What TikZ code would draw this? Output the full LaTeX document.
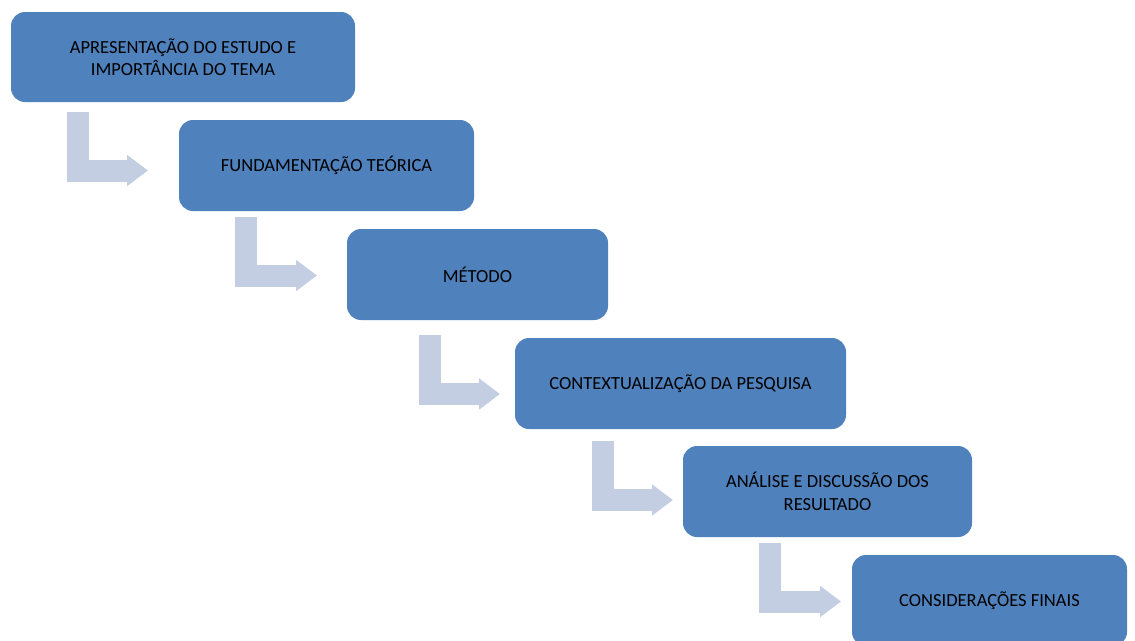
\documentclass[tikz,border=0pt]{standalone}
\usepackage{fontspec}
\setmainfont{Carlito}
\usetikzlibrary{arrows.meta}

\definecolor{boxblue}{HTML}{4F81BD}
\definecolor{flowblue}{HTML}{C3CEE3}

\tikzset{
  stepbox/.style={
    draw=none, fill=boxblue, rounded corners=14pt,
    anchor=north west, inner sep=0pt, outer sep=0pt,
    minimum height=91pt, align=center, text=black,
    font=\fontsize{18.5}{22.5}\selectfont
  },
  flow/.style={
    draw=flowblue, line width=22pt, line join=miter, line cap=butt,
    -{Triangle[length=21pt,width=30pt]}
  }
}

\begin{document}
\begin{tikzpicture}[x=1pt,y=-1pt]
  \useasboundingbox (0,0) rectangle (1135,640);

  % staircase of stages
  \node[stepbox, minimum width=344pt, minimum height=90pt] (b1) at (11,12)
    {APRESENTAÇÃO DO ESTUDO E\\IMPORTÂNCIA DO TEMA};
  \node[stepbox, minimum width=295pt] (b2) at (179,120) {FUNDAMENTAÇÃO TEÓRICA};
  \node[stepbox, minimum width=261pt] (b3) at (347,229) {MÉTODO};
  \node[stepbox, minimum width=331pt] (b4) at (515,338) {CONTEXTUALIZAÇÃO DA PESQUISA};
  \node[stepbox, minimum width=289pt] (b5) at (683,446)
    {ANÁLISE E DISCUSSÃO DOS\\RESULTADO};
  \node[stepbox, minimum width=275pt] (b6) at (852,555) {CONSIDERAÇÕES FINAIS};

  % bent arrows between consecutive stages
  \draw[flow] ([xshift=67pt,yshift=-10pt]b1.south west) |- ([xshift=-31pt,yshift=-5pt]b2.west);
  \draw[flow] ([xshift=66.5pt,yshift=-6pt]b2.south west) |- ([xshift=-30pt,yshift=-1pt]b3.west);
  \draw[flow] ([xshift=83pt,yshift=-15pt]b3.south west) |- ([xshift=-15pt,yshift=-10.5pt]b4.west);
  \draw[flow] ([xshift=87.5pt,yshift=-12pt]b4.south west) |- ([xshift=-10pt,yshift=-8.5pt]b5.west);
  \draw[flow] ([xshift=87pt,yshift=-6pt]b5.south west) |- ([xshift=-11pt,yshift=-1pt]b6.west);
\end{tikzpicture}
\end{document}
